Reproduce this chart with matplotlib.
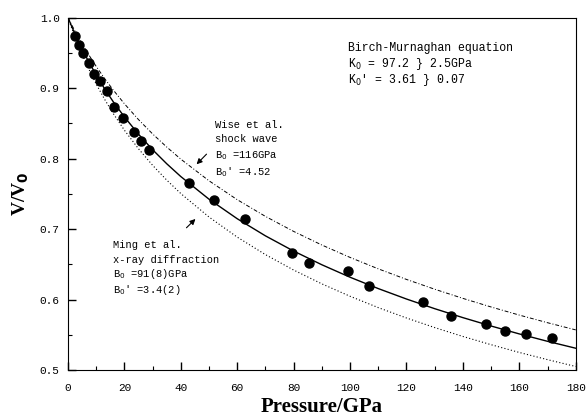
import matplotlib
matplotlib.use("Agg")
import matplotlib.pyplot as plt
from matplotlib.ticker import MultipleLocator

# measured points (pressure in GPa, V/V0)
p_data = [2.4, 3.9, 5.4, 7.5, 9.3, 11.5, 13.8, 16.2, 19.4, 23.3, 25.8, 28.6,
          43.0, 51.9, 62.8, 79.4, 85.5, 99.4, 106.7, 125.8, 135.7, 148.1,
          155.0, 162.5, 171.7]
v_data = [0.974, 0.961, 0.950, 0.935, 0.920, 0.910, 0.896, 0.873, 0.857, 0.837,
          0.825, 0.812, 0.765, 0.741, 0.714, 0.666, 0.652, 0.640, 0.619, 0.596,
          0.577, 0.565, 0.556, 0.551, 0.546]

# curves
p_curve = [0, 1, 2, 3, 5, 7, 10, 13, 16, 20, 25, 30, 35, 40, 50, 60, 70, 80,
           90, 100, 110, 120, 130, 140, 150, 160, 170, 180]
v_bm = [1.0, 0.9904, 0.9811, 0.9722, 0.9555, 0.9399, 0.9184, 0.8988, 0.8808,
        0.859, 0.8345, 0.8125, 0.7926, 0.7744, 0.7423, 0.7146, 0.6903, 0.6687,
        0.6493, 0.6316, 0.6155, 0.6007, 0.587, 0.5743, 0.5624, 0.5512, 0.5407,
        0.5309]
v_wise = [1.0, 0.992, 0.9844, 0.9769, 0.9627, 0.9494, 0.9307, 0.9134, 0.8974,
          0.8777, 0.8552, 0.8349, 0.8163, 0.7991, 0.7684, 0.7416, 0.7179,
          0.6966, 0.6773, 0.6597, 0.6435, 0.6285, 0.6146, 0.6016, 0.5894,
          0.5779, 0.5671, 0.5569]
v_ming = [1.0, 0.9885, 0.9776, 0.9672, 0.9478, 0.93, 0.9057, 0.8839, 0.8641,
          0.8402, 0.8138, 0.7904, 0.7694, 0.7503, 0.717, 0.6885, 0.6637, 0.6418,
          0.6222, 0.6046, 0.5885, 0.5738, 0.5602, 0.5476, 0.5359, 0.5249,
          0.5147, 0.505]

mono = "Liberation Mono"
serif = "Liberation Serif"

fig = plt.figure(figsize=(5.87, 4.18), dpi=100)
ax = fig.add_axes([0.1158, 0.1148, 0.865, 0.8433])

ax.plot(p_curve, v_wise, color="k", lw=0.7, ls=(0, (4, 2, 1, 2)))
ax.plot(p_curve, v_ming, color="k", lw=0.8, ls=(0, (1, 2)))
ax.plot(p_curve, v_bm, color="k", lw=1.0)
ax.plot(p_data, v_data, "o", color="k", ms=6.5, zorder=5)

ax.set_xlim(0, 180)
ax.set_ylim(0.5, 1.0)
ax.xaxis.set_minor_locator(MultipleLocator(10))
ax.yaxis.set_minor_locator(MultipleLocator(0.05))
ax.set_xticks(range(0, 181, 20))
ax.set_yticks([0.5, 0.6, 0.7, 0.8, 0.9, 1.0])
ax.set_yticklabels(["0.5", "0.6", "0.7", "0.8", "0.9", "1.0"])
ax.tick_params(which="both", direction="in", top=False, right=False)
ax.tick_params(which="major", length=6, width=1)
ax.tick_params(which="minor", length=3, width=0.8)
for lab in ax.get_xticklabels() + ax.get_yticklabels():
    lab.set_fontfamily(mono)
    lab.set_fontsize(8)
ax.tick_params(axis="x", pad=9)
ax.tick_params(axis="y", pad=6)

ax.set_xlabel("Pressure/GPa", fontfamily=serif, fontweight="bold", fontsize=15, labelpad=3)
ax.set_ylabel("V/V$_\\mathbf{0}$", fontfamily=serif, fontweight="bold", fontsize=14, labelpad=6)

ax.text(99.2, 0.952, "Birch-Murnaghan equation", fontfamily=mono, fontsize=8.3)
ax.text(99.2, 0.930, "K$_0$ = 97.2 } 2.5GPa", fontfamily=mono, fontsize=8.3)
ax.text(99.2, 0.907, "K$_0$' = 3.61 } 0.07", fontfamily=mono, fontsize=8.3)

ax.text(52, 0.843, "Wise et al.", fontfamily=mono, fontsize=7.5)
ax.text(52, 0.823, "shock wave", fontfamily=mono, fontsize=7.5)
ax.text(52, 0.801, "B$_0$ =116GPa", fontfamily=mono, fontsize=7.5)
ax.text(52, 0.777, "B$_0$' =4.52", fontfamily=mono, fontsize=7.5)
ax.annotate("", xy=(44.9, 0.789), xytext=(49.8, 0.809),
            arrowprops=dict(arrowstyle="-|>", color="k", lw=0.8, mutation_scale=8))

ax.text(16, 0.673, "Ming et al.", fontfamily=mono, fontsize=7.5)
ax.text(16, 0.652, "x-ray diffraction", fontfamily=mono, fontsize=7.5)
ax.text(16, 0.632, "B$_0$ =91(8)GPa", fontfamily=mono, fontsize=7.5)
ax.text(16, 0.609, "B$_0$' =3.4(2)", fontfamily=mono, fontsize=7.5)
ax.annotate("", xy=(45.9, 0.717), xytext=(41.3, 0.699),
            arrowprops=dict(arrowstyle="-|>", color="k", lw=0.8, mutation_scale=8))

fig.savefig("out.png", dpi=100)
